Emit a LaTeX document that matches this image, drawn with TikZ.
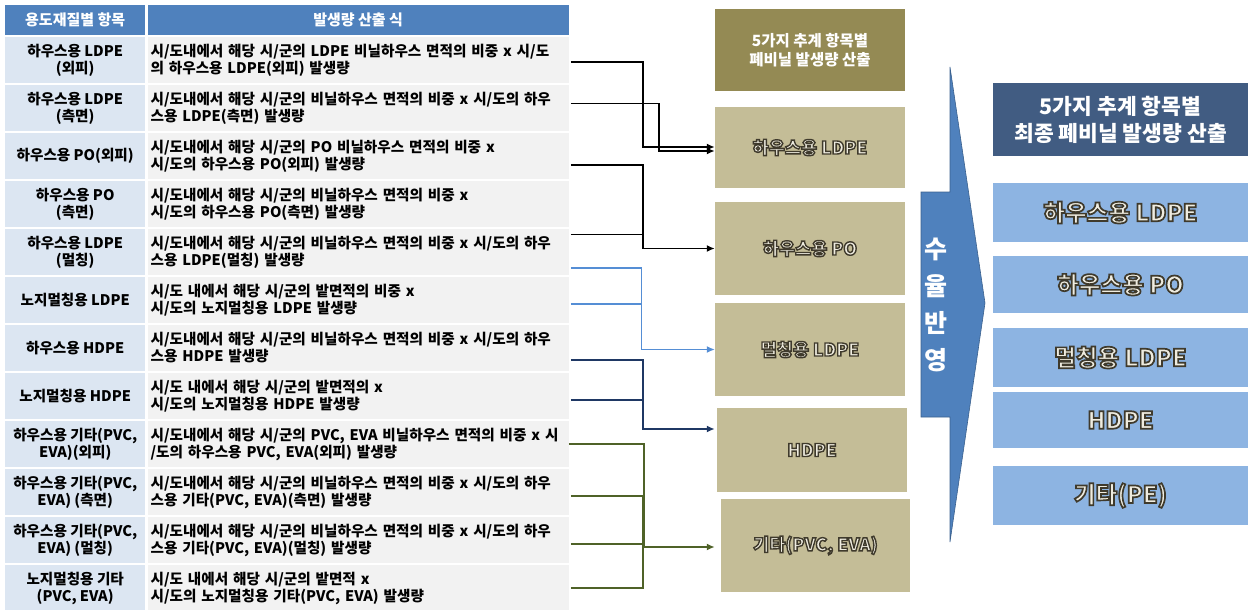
\documentclass[tikz,border=0pt]{standalone}
\usepackage{fontspec}
\setmainfont{Noto Sans CJK KR}
\usepackage{xcolor}
\usetikzlibrary{arrows.meta, positioning}

\definecolor{hdrblue}{HTML}{4F81BD}
\definecolor{cellblue}{HTML}{DCE6F2}
\definecolor{cellgray}{HTML}{F2F2F2}
\definecolor{tanhead}{HTML}{948A54}
\definecolor{tanfill}{HTML}{C4BD97}
\definecolor{slatehead}{HTML}{415C82}
\definecolor{skyfill}{HTML}{8DB4E2}
\definecolor{lineblue}{HTML}{558ED5}
\definecolor{linenavy}{HTML}{1F3864}
\definecolor{lineolive}{HTML}{4F6228}
\definecolor{embosslight}{HTML}{EFECE0}

% outlined label text (fill + dark stroke)
\newcommand{\emboss}[2][1.4]{\special{pdf:code 2 Tr #1 w 0.247 0.227 0.173 RG}#2\special{pdf:code 0 Tr}}

\begin{document}
\begin{tikzpicture}[
  x=1pt, y=-1pt,
  every node/.style={font=\fontsize{14.6}{17}\selectfont\bfseries, inner sep=0pt},
  headcell/.style={fill=hdrblue, text=white, minimum height=30pt, font=\fontsize{15}{17}\selectfont\bfseries},
  itemcell/.style={fill=cellblue, minimum width=140pt, minimum height=45.6pt, align=center},
  formcell/.style={fill=cellgray, minimum height=45.6pt, text width=415pt, inner xsep=3pt, align=left},
  tanbox/.style={fill=tanfill, text=embosslight, minimum width=190pt, font=\fontsize{17.5}{20}\selectfont\bfseries},
  skybox/.style={fill=skyfill, text=embosslight, minimum width=255pt, font=\fontsize{23.5}{26}\selectfont\bfseries},
  link/.style={line width=1.6pt, -{Latex[length=8pt,width=7pt]}},
  joinline/.style={line width=1.6pt},
]
\useasboundingbox (0,0) rectangle (1248,610);

% Table
\node[headcell, minimum width=140pt, anchor=north west] (h1) at (5,5) {용도재질별 항목};
\node[headcell, minimum width=421pt, right=2pt of h1] (h2) {발생량 산출 식};

\node[itemcell, anchor=north west] (i1) at (5,37) {하우스용 LDPE\\(외피)};
\node[formcell, right=2pt of i1] (f1) {시/도내에서 해당 시/군의 LDPE 비닐하우스 면적의 비중 x 시/도\\의 하우스용 LDPE(외피) 발생량};
\node[itemcell, below=2pt of i1] (i2) {하우스용 LDPE\\(측면)};
\node[formcell, right=2pt of i2] (f2) {시/도내에서 해당 시/군의 비닐하우스 면적의 비중 x 시/도의 하우\\스용 LDPE(측면) 발생량};
\node[itemcell, below=2pt of i2] (i3) {하우스용 PO(외피)};
\node[formcell, right=2pt of i3] (f3) {시/도내에서 해당 시/군의 PO 비닐하우스 면적의 비중 x\\시/도의 하우스용 PO(외피) 발생량};
\node[itemcell, below=2pt of i3] (i4) {하우스용 PO\\(측면)};
\node[formcell, right=2pt of i4] (f4) {시/도내에서 해당 시/군의 비닐하우스 면적의 비중 x\\시/도의 하우스용 PO(측면) 발생량};
\node[itemcell, below=2pt of i4] (i5) {하우스용 LDPE\\(멀칭)};
\node[formcell, right=2pt of i5] (f5) {시/도내에서 해당 시/군의 비닐하우스 면적의 비중 x 시/도의 하우\\스용 LDPE(멀칭) 발생량};
\node[itemcell, below=2pt of i5] (i6) {노지멀칭용 LDPE};
\node[formcell, right=2pt of i6] (f6) {시/도 내에서 해당 시/군의 밭면적의 비중 x\\시/도의 노지멀칭용 LDPE 발생량};
\node[itemcell, below=2pt of i6] (i7) {하우스용 HDPE};
\node[formcell, right=2pt of i7] (f7) {시/도내에서 해당 시/군의 비닐하우스 면적의 비중 x 시/도의 하우\\스용 HDPE 발생량};
\node[itemcell, below=2pt of i7] (i8) {노지멀칭용 HDPE};
\node[formcell, right=2pt of i8] (f8) {시/도 내에서 해당 시/군의 밭면적의 x\\시/도의 노지멀칭용 HDPE 발생량};
\node[itemcell, below=2pt of i8] (i9) {하우스용 기타(PVC,\\EVA)(외피)};
\node[formcell, right=2pt of i9] (f9) {시/도내에서 해당 시/군의 PVC, EVA 비닐하우스 면적의 비중 x 시\\/도의 하우스용 PVC, EVA(외피) 발생량};
\node[itemcell, below=2pt of i9] (i10) {하우스용 기타(PVC,\\EVA) (측면)};
\node[formcell, right=2pt of i10] (f10) {시/도내에서 해당 시/군의 비닐하우스 면적의 비중 x 시/도의 하우\\스용 기타(PVC, EVA)(측면) 발생량};
\node[itemcell, below=2pt of i10] (i11) {하우스용 기타(PVC,\\EVA) (멀칭)};
\node[formcell, right=2pt of i11] (f11) {시/도내에서 해당 시/군의 비닐하우스 면적의 비중 x 시/도의 하우\\스용 기타(PVC, EVA)(멀칭) 발생량};
\node[itemcell, below=2pt of i11] (i12) {노지멀칭용 기타\\(PVC, EVA)};
\node[formcell, right=2pt of i12] (f12) {시/도 내에서 해당 시/군의 밭면적 x\\시/도의 노지멀칭용 기타(PVC, EVA) 발생량};

% Middle boxes
\node[tanbox, fill=tanhead, text=white, minimum height=82pt, align=center,
  font=\fontsize{15.5}{18.5}\selectfont\bfseries] (midhead) at (810,50) {5가지 추계 항목별\\폐비닐 발생량 산출};
\node[tanbox, minimum height=81pt] (ldpe) at (810,147.5) {\emboss{하우스용 LDPE}};
\node[tanbox, minimum height=93pt] (po) at (810,248.5) {\emboss{하우스용 PO}};
\node[tanbox, minimum height=93pt] (mulch) at (810,349.5) {\emboss{멀칭용 LDPE}};
\node[tanbox, minimum height=84pt] (hdpe) at (812,450) {\emboss{HDPE}};
\node[tanbox, minimum height=93pt, minimum width=189pt] (etc) at (815.5,545.5) {\emboss{기타(PVC, EVA)}};

% Arrows
\draw[link] ([xshift=2pt,yshift=-2pt]f1.east) -| ([xshift=-72pt,yshift=0.5pt]ldpe.west) -- ([yshift=0.5pt]ldpe.west);
\draw[link] ([xshift=2pt,yshift=4.4pt]f2.east) -| ([xshift=-56pt,yshift=-3.5pt]ldpe.west) -- ([yshift=-3.5pt]ldpe.west);
\draw[link] ([xshift=2pt,yshift=-9pt]f3.east) -| ([xshift=-72pt]po.west) -- (po.west);
\draw[joinline] ([xshift=2pt,yshift=-30.4pt]f4.east) -| ([xshift=-72pt]po.west);
\draw[link, lineblue, line width=1.2pt] ([xshift=2pt,yshift=-16pt]f5.east) -| ([xshift=-73pt]mulch.west) -- (mulch.west);
\draw[joinline, lineblue, line width=1.2pt] ([xshift=2pt,yshift=-4pt]f6.east) -| ([xshift=-73pt,yshift=20pt]mulch.west);
\draw[link, linenavy, line width=1.8pt] ([xshift=2pt,yshift=-11.6pt]f7.east) -| ([xshift=-74pt,yshift=21pt]hdpe.west) -- ([xshift=-2pt,yshift=21pt]hdpe.west);
\draw[joinline, linenavy, line width=1.8pt] ([xshift=2pt,yshift=-4pt]f8.east) -| ([xshift=-74pt,yshift=21pt]hdpe.west);
\draw[link, lineolive] (f9.east) -| ([xshift=-77pt,yshift=-1.5pt]etc.west) -- ([xshift=-6pt,yshift=-1.5pt]etc.west);
\draw[joinline, lineolive] ([xshift=2pt,yshift=-4pt]f10.east) -| ([xshift=-78pt,yshift=-1.5pt]etc.west);
\draw[joinline, lineolive] ([xshift=2pt,yshift=-4pt]f11.east) -| ([xshift=-78pt,yshift=-1.5pt]etc.west);
\draw[joinline, lineolive] ([xshift=2pt]f12.east) -| ([xshift=-78pt,yshift=-1.5pt]etc.west);

% Yield arrow
\draw[fill=hdrblue, draw=hdrblue!75!black, line width=0.6pt]
  (950,67) -- (985,303) -- (950,542) -- (950,417) -- (921,417) -- (921,192) -- (950,192) -- cycle;
\node[text=white, align=center, font=\fontsize{25}{37}\selectfont\bfseries] (yield) at (936,305) {수\\율\\반\\영};

% Final boxes
\node[fill=slatehead, text=white, minimum width=255pt, minimum height=73pt, align=center,
  font=\fontsize{21.5}{27}\selectfont\bfseries] (finalhead) at (1120.5,119.5) {5가지 추계 항목별\\최종 폐비닐 발생량 산출};
\node[skybox, minimum height=59pt] (fldpe) at (1120.5,212.5) {\emboss[1.7]{하우스용 LDPE}};
\node[skybox, minimum height=57pt] (fpo) at (1120.5,284.5) {\emboss[1.7]{하우스용 PO}};
\node[skybox, minimum height=59pt] (fmulch) at (1120.5,357.5) {\emboss[1.7]{멀칭용 LDPE}};
\node[skybox, minimum height=56pt] (fhdpe) at (1120.5,420) {\emboss[1.7]{HDPE}};
\node[skybox, minimum height=59pt] (fetc) at (1120.5,495.5) {\emboss[1.7]{기타(PE)}};
\end{tikzpicture}
\end{document}
